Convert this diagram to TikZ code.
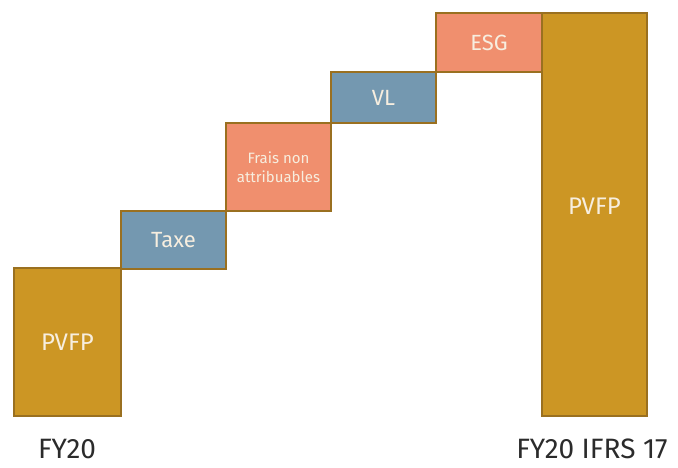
\documentclass[tikz,border=0pt]{standalone}
\usepackage{fontspec}
\setmainfont{Fira Sans}
\definecolor{gold}{HTML}{CC9624}
\definecolor{goldedge}{HTML}{9A7020}
\definecolor{steel}{HTML}{7498B0}
\definecolor{salmon}{HTML}{F08F6E}
\definecolor{boxtext}{HTML}{F7EEDF}
\definecolor{axistext}{HTML}{2B2B2B}
\begin{document}
\begin{tikzpicture}[x=1pt,y=-1pt,
  bar/.style={draw=goldedge,line width=1.6pt,inner sep=0pt,text=boxtext,align=center},
  goldbar/.style={bar,fill=gold,font=\fontsize{24}{28}\selectfont},
  bluebar/.style={bar,fill=steel,font=\fontsize{22}{26}\selectfont},
  pinkbar/.style={bar,fill=salmon,font=\fontsize{22}{26}\selectfont},
  caption/.style={text=axistext,font=\fontsize{28}{32}\selectfont,inner sep=0pt,text depth=0pt,anchor=base}]
\useasboundingbox (0,0) rectangle (678,467);
% start and end totals
\node[goldbar,minimum width=107pt,minimum height=148pt] (start) at (67.5,342) {PVFP};
\node[goldbar,minimum width=105pt,minimum height=403pt] (total) at (594.5,214.5) {};
\node[text=boxtext,font=\fontsize{24}{28}\selectfont] (totallbl) at (594.5,206) {PVFP};
% intermediate steps
\node[bluebar,minimum width=105pt,minimum height=58pt] (taxe) at (173.5,240) {Taxe};
\node[pinkbar,minimum width=105pt,minimum height=88pt,font=\fontsize{15}{19}\selectfont] (frais) at (278.5,167) {Frais non\\attribuables};
\node[bluebar,minimum width=105pt,minimum height=51pt] (vl) at (383.5,97.5) {VL};
\node[pinkbar,minimum width=106pt,minimum height=59pt] (esg) at (489,42.5) {ESG};
% period captions
\node[caption] (fy) at (67,458) {FY20};
\node[caption] (fyi) at (592,458) {FY20 IFRS 17};
\end{tikzpicture}
\end{document}
